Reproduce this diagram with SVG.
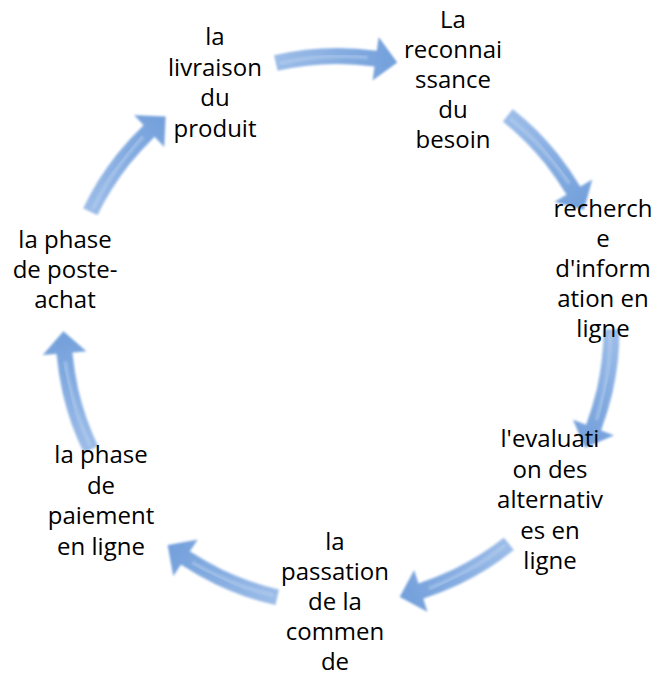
<svg xmlns="http://www.w3.org/2000/svg" width="655" height="677" viewBox="0 0 655 677">
<style>
  .lbl { font-family: "Open Sans", "Liberation Sans", sans-serif; font-size: 24px; fill: #000; text-anchor: middle; }
  .arrow { fill: url(#ag); filter: url(#soft); }
  .hl { fill: none; stroke: #bcd2f0; stroke-width: 4; stroke-opacity: 0.45; filter: url(#soft); }
</style>
<defs>
  <linearGradient id="ag" gradientUnits="userSpaceOnUse" x1="-64" y1="0" x2="60" y2="0">
    <stop offset="0" stop-color="#9dbde8"/>
    <stop offset="1" stop-color="#729fdb"/>
  </linearGradient>
  <filter id="soft" x="-10%" y="-10%" width="120%" height="120%">
    <feGaussianBlur stdDeviation="0.9"/>
  </filter>
  <g id="cyc-arrow">
    <path class="arrow" d="M -63.44,-274.77 A 282 282 0 0 1 39.25,-279.26 L 41.19,-293.12 L 59.77,-267.40 L 35.07,-249.55 L 37.02,-263.41 A 266 266 0 0 0 -59.84,-259.18 Z"/>
    <path class="hl" d="M -58,-266.5 A 274 274 0 0 1 30,-272.4"/>
  </g>
</defs>
<rect width="655" height="677" fill="#fff"/>
<g id="connectors">
  <use href="#cyc-arrow" transform="translate(337.5,330) rotate(0)"/>
  <use href="#cyc-arrow" transform="translate(337.5,330) rotate(51.43)"/>
  <use href="#cyc-arrow" transform="translate(337.5,330) rotate(102.86)"/>
  <use href="#cyc-arrow" transform="translate(337.5,330) rotate(154.29)"/>
  <use href="#cyc-arrow" transform="translate(337.5,330) rotate(205.71)"/>
  <use href="#cyc-arrow" transform="translate(337.5,330) rotate(257.14)"/>
  <use href="#cyc-arrow" transform="translate(337.5,330) rotate(308.57)"/>
</g>
<g id="node-livraison">
  <text class="lbl"><tspan x="215" y="45">la</tspan><tspan x="215" y="75.5">livraison</tspan><tspan x="215" y="106">du</tspan><tspan x="215" y="136.5">produit</tspan></text>
</g>
<g id="node-reconnaissance">
  <text class="lbl"><tspan x="453" y="28">La</tspan><tspan x="453" y="58">reconnai</tspan><tspan x="453" y="88">ssance</tspan><tspan x="453" y="118">du</tspan><tspan x="453" y="148">besoin</tspan></text>
</g>
<g id="node-recherche">
  <text class="lbl"><tspan x="603" y="217">recherch</tspan><tspan x="603" y="247">e</tspan><tspan x="603" y="277">d'inform</tspan><tspan x="603" y="307">ation en</tspan><tspan x="603" y="337">ligne</tspan></text>
</g>
<g id="node-evaluation">
  <text class="lbl"><tspan x="550" y="447">l'evaluati</tspan><tspan x="550" y="477.5">on des</tspan><tspan x="550" y="508">alternativ</tspan><tspan x="550" y="538.5">es en</tspan><tspan x="550" y="569">ligne</tspan></text>
</g>
<g id="node-passation">
  <text class="lbl"><tspan x="335" y="550">la</tspan><tspan x="335" y="580">passation</tspan><tspan x="335" y="610">de la</tspan><tspan x="335" y="640">commen</tspan><tspan x="335" y="670">de</tspan></text>
</g>
<g id="node-paiement">
  <text class="lbl"><tspan x="101" y="463">la phase</tspan><tspan x="101" y="493.5">de</tspan><tspan x="101" y="524">paiement</tspan><tspan x="101" y="554.5">en ligne</tspan></text>
</g>
<g id="node-poste-achat">
  <text class="lbl"><tspan x="65" y="248">la phase</tspan><tspan x="65" y="278">de poste-</tspan><tspan x="65" y="308">achat</tspan></text>
</g>
</svg>
